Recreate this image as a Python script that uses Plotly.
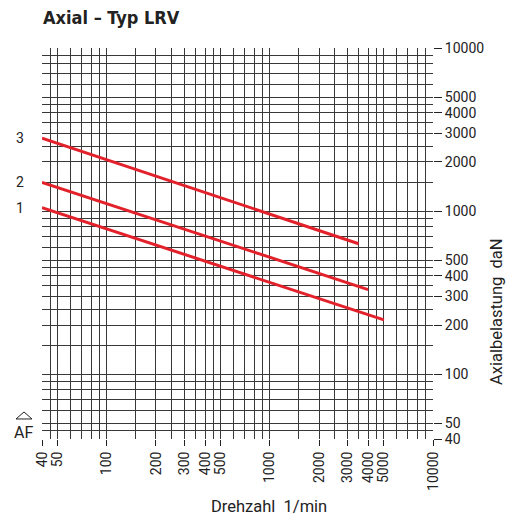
import math
import plotly.graph_objects as go

# ---- data ----
series_names = ["1", "2", "3"]
speed_1 = [40, 5000]
load_1 = [1050, 215]
speed_2 = [40, 4000]
load_2 = [1500, 330]
speed_3 = [40, 3500]
load_3 = [2800, 630]

x_tick_vals = [40, 50, 100, 200, 300, 400, 500, 1000, 2000, 3000, 4000, 5000, 10000]
y_tick_vals = [40, 50, 100, 200, 300, 400, 500, 1000, 2000, 3000, 4000, 5000, 10000]
grid_vals = [40, 45, 50, 60, 70, 80, 90, 100, 150, 200, 250, 300, 350, 400, 450, 500,
             600, 700, 800, 900, 1000, 1500, 2000, 2500, 3000, 3500, 4000, 4500, 5000,
             6000, 7000, 8000, 9000, 10000]

RED = "#e3212b"
INK = "#222222"
GRID = "#383838"
FONT = "Roboto, Liberation Sans, sans-serif"

# plot area target: x 42..433, y 48..439 in a 507x517 page (body margin removed)
L, T, S = 42, 48, 391
W, H = 507, 517

fig = go.Figure()
for name, xs, ys in [("1", speed_1, load_1), ("2", speed_2, load_2), ("3", speed_3, load_3)]:
    fig.add_trace(go.Scatter(x=xs, y=ys, mode="lines", name=name,
                             line=dict(color=RED, width=3), showlegend=False,
                             hoverinfo="skip"))

axis_common = dict(
    type="log",
    tickmode="array",
    showgrid=True, gridcolor=GRID, gridwidth=1,
    ticks="outside", tickcolor=INK, tickwidth=1,
    showline=False, zeroline=False,
    tickfont=dict(family=FONT, size=14, color=INK),
    minor=dict(tickmode="array", tickvals=grid_vals, showgrid=True,
               gridcolor=GRID, gridwidth=1, ticks=""),
)

fig.update_layout(
    width=W, height=H,
    margin=dict(l=L, r=W - L - S, t=T, b=H - T - S, autoexpand=False),
    paper_bgcolor="white", plot_bgcolor="white",
    font=dict(family=FONT, color=INK),
    xaxis=dict(axis_common, range=[math.log10(40), math.log10(10000)],
               tickvals=x_tick_vals, ticktext=[str(v) for v in x_tick_vals],
               tickangle=-90, ticklen=6, automargin=False),
    yaxis=dict(axis_common, side="right", range=[math.log10(40), math.log10(10000)],
               tickvals=y_tick_vals, ticktext=[str(v) for v in y_tick_vals],
               ticklen=8, automargin=False),
)

def px(xw):
    return (xw - L) / S

def py(yw):
    return (T + S - yw) / S

# title
fig.add_annotation(text="<b>Axial – Typ LRV</b>", xref="paper", yref="paper",
                   x=px(41), y=py(17), xanchor="left", yanchor="middle",
                   showarrow=False,
                   font=dict(family="DejaVu Sans Condensed, Liberation Sans Narrow, Roboto Condensed, sans-serif",
                             size=18, color=INK))
# axis titles
fig.add_annotation(text="Drehzahl  1/min", xref="paper", yref="paper",
                   x=px(269), y=py(507), xanchor="center", yanchor="middle",
                   showarrow=False, font=dict(family=FONT, size=16.5, color=INK))
fig.add_annotation(text="Axialbelastung  daN", xref="paper", yref="paper",
                   x=px(496), y=py(312), xanchor="center",
                   yanchor="middle", textangle=-90,
                   showarrow=False, font=dict(family=FONT, size=16.5, color=INK))
# series labels at line starts
for name, ys in [("1", load_1), ("2", load_2), ("3", load_3)]:
    fig.add_annotation(text=name, xref="paper", yref="y",
                       x=px(20), y=math.log10(ys[0]),
                       xanchor="center", yanchor="middle", showarrow=False,
                       font=dict(family=FONT, size=14, color=INK))
# AF symbol
fig.add_annotation(text="AF", xref="paper", yref="paper",
                   x=px(23), y=py(432),
                   xanchor="center", yanchor="middle", showarrow=False,
                   font=dict(family=FONT, size=16, color=INK))
fig.add_shape(type="path", xref="paper", yref="paper",
              path="M {:.4f} {:.4f} L {:.4f} {:.4f} L {:.4f} {:.4f} Z".format(
                  px(16), py(419), px(32), py(419), px(24), py(412)),
              line=dict(color=INK, width=1))

fig.write_html("out.html",
               config={"displayModeBar": False, "staticPlot": True},
               post_script="document.body.style.margin='0px';"
                           "document.body.style.overflow='hidden';")
